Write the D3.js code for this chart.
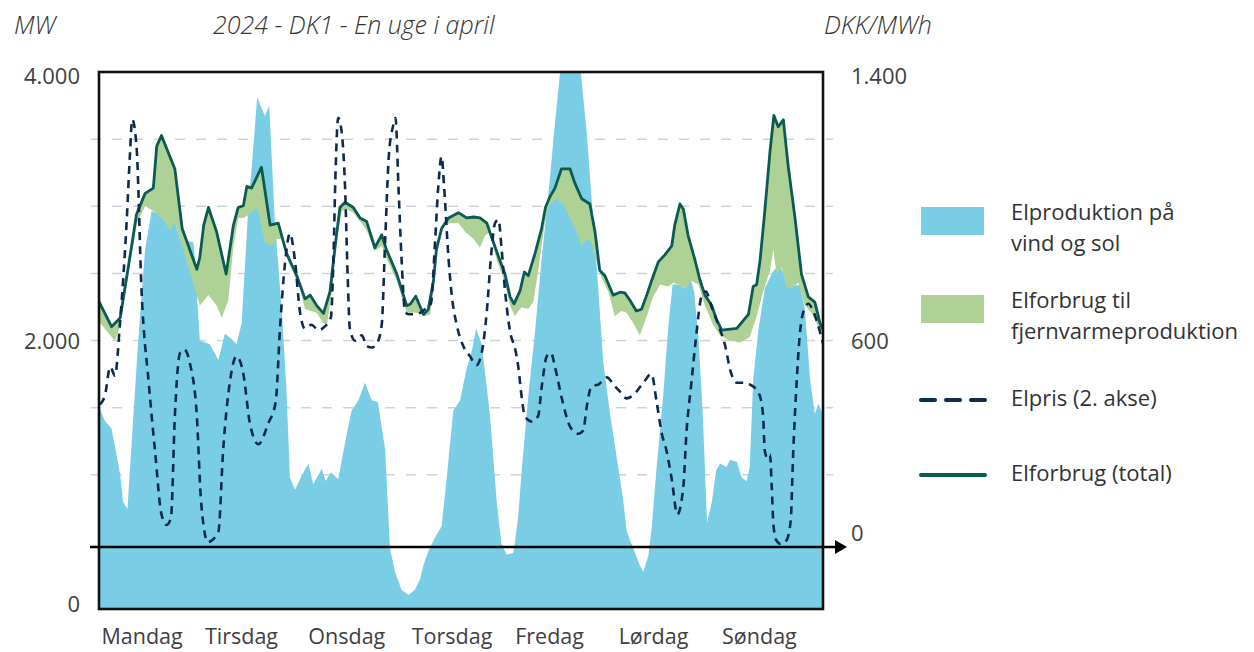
<!DOCTYPE html>
<html><head><meta charset="utf-8">
<script src="https://cdn.jsdelivr.net/npm/d3@7"></script>
<style>
html,body{margin:0;padding:0;background:#fff;}
svg{display:block;font-family:"Open Sans",sans-serif;}
</style></head><body>
<svg id="chart" width="1254" height="652"></svg>
<script>
// ---------- data (hour of week, value) ----------
const days = ["Mandag","Tirsdag","Onsdag","Torsdag","Fredag","Lørdag","Søndag"];
const mwTicks = [0, 2000, 4000];
const mwGrid = [1000, 1500, 2000, 2500, 3000, 3500];
const priceTicks = [0, 600, 1400];

// Elproduktion på vind og sol (MW)
const windSolar = [
 [0,1510],[1.4,1398],[2.9,1345],[4.9,1006],[5.6,797],[6.6,745],[9.1,2000],[10.7,2678],[12.2,2965],[14,2939],
 [16.5,2834],[17.6,2887],[18.8,2756],[21.9,2730],[22.3,2599],[22.8,2300],[23.4,2000],[25.7,1972],[27.7,1855],
 [29.2,2051],[30.8,2012],[31.9,1972],[33.1,2129],[34.6,2965],[35.8,3435],[36.7,3814],[38.5,3670],[39.5,3749],
 [40.8,2887],[42.4,2234],[43.5,1633],[44.3,980],[45.5,888],[47,993],[48.6,1084],[49.7,930],[51.7,1045],
 [52.6,954],[53.8,1019],[55.5,967],[57.1,1241],[58.6,1476],[60.2,1555],[61.7,1685],[63.3,1555],[64.7,1541],
 [66.4,1189],[67.5,457],[68.7,275],[70.2,144],[71.8,105],[73.3,144],[74.5,222],[75.3,327],[76.4,431],[78,535],
 [79.5,614],[80.7,980],[82.2,1476],[83.8,1555],[85.3,1790],[86.5,1920],[87.5,2090],[88.8,1972],[90.7,1450],
 [92.3,797],[93.4,484],[94.6,405],[96.1,418],[96.6,520],[97.3,700],[98.1,1040],[99.6,1581],[101.2,2077],
 [102.7,2599],[104.3,3096],[105.8,3618],[107.2,4062],[108.6,4400],[110.2,4380],[111.6,4062],[113.2,3540],
 [114.7,2887],[115.9,2364],[117,1842],[118.6,1450],[120.1,1137],[121.7,797],[122.4,588],[123.2,510],[124,457],
 [125.1,353],[126.3,275],[127.5,400],[128.2,588],[129.4,1058],[130.9,1581],[132.1,2103],[133.1,2417],
 [134.4,2417],[136,2390],[137.3,2456],[138.1,2364],[139.1,2025],[140.1,1450],[141.1,640],[142.2,797],
 [143.2,1032],[144.1,1084],[145.6,1058],[146.4,1110],[148,1097],[149.1,980],[150.3,954],[151,1058],
 [151.8,1711],[153,2077],[154.5,2390],[156.5,2521],[158,2560],[159.2,2469],[160.3,2403],[162.6,2416],
 [163.8,2234],[165,1711],[166.1,1450],[166.9,1528],[168,1450]
];

// Elforbrug (total) (MW)
const totalLoad = [
 [0,2290],[2.9,2103],[4.9,2168],[6.8,2547],[8.7,2939],[10.7,3096],[12.6,3135],[13.4,3448],[14.5,3527],
 [17.6,3278],[19.3,2834],[22.7,2530],[23.4,2620],[24.3,2860],[25.4,2991],[27.3,2808],[29.5,2495],[31.2,2860],
 [32.3,2991],[33.5,3004],[34.3,3148],[35.4,3135],[37.7,3291],[39.7,2860],[41.6,2874],[43.5,2651],[45.9,2482],
 [47.8,2310],[49,2338],[50.5,2260],[52.1,2202],[53.6,2364],[54.8,2704],[55.9,2991],[57.1,3030],[59,2991],
 [60.6,2913],[62.1,2887],[64,2691],[65.6,2787],[66.7,2678],[69.1,2495],[71.4,2260],[72.2,2270],[73.5,2330],
 [75.3,2194],[76.4,2230],[77.6,2443],[78.3,2678],[79.5,2834],[81.1,2913],[83.4,2952],[85.3,2913],[86.9,2920],
 [88.4,2913],[90,2874],[91.1,2769],[92.7,2625],[94.2,2495],[95.4,2325],[96.3,2273],[97.7,2370],[98.7,2510],
 [99.6,2482],[101.2,2651],[102.7,2834],[103.6,2991],[104.6,3069],[105.8,3135],[107.3,3278],[109.3,3278],
 [110.4,3174],[112,3056],[113.9,3017],[115.1,2808],[116.2,2521],[117.4,2482],[119.3,2338],[120.9,2360],
 [122,2355],[123.2,2300],[124.7,2220],[125.9,2234],[127.1,2338],[128.2,2443],[129.8,2586],[131.3,2638],
 [132.9,2704],[133.6,2860],[134.8,3017],[135.6,2978],[136.7,2782],[138.3,2599],[139.4,2456],[140.6,2338],
 [142.2,2260],[143.3,2155],[144.5,2077],[148,2090],[150.7,2194],[151.8,2403],[152.6,2416],[153.4,2599],
 [154.5,2965],[155.7,3409],[156.6,3676],[157.6,3592],[158.8,3644],[159.9,3305],[161.5,2913],[163,2495],
 [164.6,2325],[166.1,2286],[167.3,2129],[168,2080]
];

// Elforbrug uden fjernvarmeproduktion (lower edge of green band) (MW)
const loadExHeat = [
 [0,2140],[3.7,1999],[4.9,2103],[6.8,2495],[8.8,2874],[10.7,3000],[12.6,2965],[14.5,2913],[16.6,2821],
 [17.6,2887],[19.3,2704],[23.4,2260],[25.4,2338],[27.3,2260],[28.5,2170],[30,2300],[31.2,2704],[32.3,2913],
 [33.5,2913],[35,2940],[36.6,2990],[37.3,2913],[38.5,2730],[40.1,2704],[41.2,2756],[42.4,2756],[43.8,2599],
 [46.6,2390],[47.8,2234],[50.5,2207],[52.1,2129],[52.9,2116],[54,2364],[55.2,2756],[56.3,2965],[57.5,2978],
 [59,2952],[60.6,2887],[62.1,2821],[64,2665],[65.6,2704],[66.7,2612],[69.1,2443],[71.4,2207],[72.5,2207],
 [74.5,2207],[75.6,2181],[76.8,2194],[77.6,2364],[78.7,2756],[79.9,2860],[81.4,2874],[83.4,2874],[85,2808],
 [86.9,2756],[88.4,2691],[89.6,2782],[90.7,2808],[92.3,2599],[93.8,2469],[95.4,2260],[96.5,2181],[98,2247],
 [99.6,2234],[100.8,2286],[101.9,2521],[103.5,2887],[104.6,3017],[106.2,3056],[107.7,3017],[109.3,2913],
 [110.8,2808],[112,2704],[113.1,2756],[114.3,2730],[115.1,2625],[116.6,2469],[118.2,2364],[119.7,2181],
 [121.2,2220],[122.4,2207],[124,2129],[125.5,2038],[127.1,2181],[128.6,2325],[130.2,2417],[132.1,2403],
 [133.3,2430],[134.4,2417],[136,2390],[137.5,2443],[139.1,2417],[140.6,2260],[142.5,2116],[144.1,2040],
 [146.4,1999],[148.7,1985],[151,2025],[152.6,2181],[154.1,2364],[155.7,2521],[156.5,2678],[157.2,2495],
 [158.4,2547],[159.5,2403],[160.7,2390],[162.3,2430],[163.8,2260],[165.3,2207],[167.3,2077],[168,2060]
];

// Elpris (DKK/MWh)
const price = [
 [0.2,420],[1.4,448],[2.6,531],[3.7,505],[4.9,665],[6.4,955],[7.2,1161],[7.7,1260],[8.7,1182],[9.9,748],
 [11.5,489],[13,283],[14.5,96],[15.7,65],[16.7,86],[17.6,386],[18.8,572],[19.8,582],[21.1,541],[22.7,386],
 [23.6,150],[24.3,60],[25.2,14],[27.7,45],[28.8,283],[30.4,489],[31.9,562],[33.5,510],[35,365],[37,303],
 [39.3,365],[41,427],[42,644],[43.2,841],[44.3,924],[45.5,841],[46.6,696],[47.8,644],[49.3,655],[50.9,639],
 [52.4,650],[53.8,676],[54.4,851],[54.9,1110],[55.5,1265],[56.3,1224],[57.1,1058],[57.7,800],[58.2,644],
 [59.4,608],[61,624],[62.1,593],[63.3,588],[64.4,598],[65.6,655],[66.4,903],[67.3,1161],[68.3,1244],
 [68.8,1265],[69.5,1058],[70.2,851],[71,696],[71.8,686],[73.3,686],[74.5,690],[75.6,700],[77,717],[78,903],
 [78.7,1058],[79.5,1151],[80.1,1058],[81.1,851],[81.8,748],[83,655],[84.5,593],[86.1,562],[87.6,536],
 [88.8,572],[90,696],[91,862],[91.9,955],[92.7,965],[93.4,882],[94.2,758],[95.4,634],[96.6,582],[97.3,530],
 [98.1,440],[98.8,386],[100.4,370],[101.9,386],[102.7,469],[103.9,562],[104.9,572],[105.8,531],[107.4,438],
 [109.3,355],[111.2,334],[112.4,344],[113.1,407],[114.3,474],[115.9,479],[117.8,500],[119.7,474],[120.9,458],
 [122.4,438],[124,448],[126.3,484],[128.2,510],[129.4,427],[130.6,334],[131.7,283],[132.9,200],[134.2,96],
 [135.6,179],[136.3,334],[137.5,489],[138.5,613],[139.8,738],[140.8,753],[142.2,706],[143.7,655],[145.3,593],
 [146.5,520],[148,484],[149.9,484],[151,479],[152.2,469],[153.4,443],[154.1,386],[154.5,283],[155.1,262],
 [155.7,272],[156.1,179],[156.5,65],[157.2,19],[158.2,9],[159.5,19],[160.5,76],[161.1,283],[161.9,489],
 [162.6,624],[163.8,706],[164.6,717],[165.7,696],[167.3,634],[168,600]
];

const legendItems = [
 {lines:["Elproduktion på","vind og sol"], type:"rect", color:"#79cee5"},
 {lines:["Elforbrug til","fjernvarmeproduktion"], type:"rect", color:"#aed295"},
 {lines:["Elpris (2. akse)"], type:"dash", color:"#0e2a4c"},
 {lines:["Elforbrug (total)"], type:"line", color:"#0b5a54"}
];

// ---------- layout ----------
const P = {left:99, right:823, top:72, bottom:609};
const svg = d3.select("#chart");
const x = d3.scaleLinear().domain([0,168]).range([P.left,P.right]);
const yMW = d3.scaleLinear().domain([0,4000]).range([P.bottom,P.top]);
const yPrice = d3.scaleLinear().domain([0,1400]).range([547,P.top]);
const dayScale = d3.scaleBand().domain(days).range([P.left,P.right]);
const fmt = d3.formatLocale({decimal:",",thousands:".",grouping:[3],currency:["","kr"]}).format(",");
const textColor = "#404040";

svg.append("defs").append("clipPath").attr("id","plotclip")
  .append("rect").attr("x",P.left).attr("y",P.top).attr("width",P.right-P.left).attr("height",P.bottom-P.top);

// gridlines
svg.append("g").selectAll("line").data(mwGrid).join("line")
  .attr("x1",90).attr("x2",833)
  .attr("y1",d=>yMW(d)).attr("y2",d=>yMW(d))
  .attr("stroke","#cdd3dc").attr("stroke-width",1.5).attr("stroke-dasharray","10,11")
  .attr("stroke-dashoffset",-1);

const plot = svg.append("g").attr("clip-path","url(#plotclip)");

// blue area
plot.append("path").datum(windSolar)
  .attr("d", d3.area().x(d=>x(d[0])).y0(yMW(0)).y1(d=>yMW(d[1])))
  .attr("fill","#79cee5");

// green band
const bandPts = totalLoad.concat(loadExHeat.slice().reverse());
plot.append("path").datum(bandPts)
  .attr("d", d3.line().x(d=>x(d[0])).y(d=>yMW(d[1]))(bandPts) + "Z")
  .attr("fill","#aed295");

// total line
plot.append("path").datum(totalLoad)
  .attr("d", d3.line().x(d=>x(d[0])).y(d=>yMW(d[1])))
  .attr("fill","none").attr("stroke","#0b5a54").attr("stroke-width",2.8).attr("stroke-linejoin","round");

// price line
plot.append("path").datum(price)
  .attr("d", d3.line().curve(d3.curveMonotoneX).x(d=>x(d[0])).y(d=>yPrice(d[1])))
  .attr("fill","none").attr("stroke","#0e2a4c").attr("stroke-width",2.6)
  .attr("stroke-dasharray","8,6");

// frame
svg.append("rect").attr("x",P.left).attr("y",P.top)
  .attr("width",P.right-P.left).attr("height",P.bottom-P.top)
  .attr("fill","none").attr("stroke","#111").attr("stroke-width",2.6);

// zero price arrow axis
const y0p = yPrice(0);
svg.append("line").attr("x1",90).attr("x2",838).attr("y1",y0p).attr("y2",y0p)
  .attr("stroke","#000").attr("stroke-width",2.6);
svg.append("path").attr("d",`M835,${y0p-7}L847,${y0p}L835,${y0p+7}Z`).attr("fill","#000");

// left tick labels
svg.append("g").selectAll("text").data(mwTicks).join("text")
  .attr("x",80).attr("y",d=>Math.min(Math.max(yMW(d),76),604)+8)
  .attr("text-anchor","end").attr("font-size",22).attr("fill",textColor)
  .text(d=>fmt(d));

// right tick labels (aligned to left gridline rows, 0 just above the arrow)
svg.append("g").selectAll("text").data(priceTicks).join("text")
  .attr("x",851).attr("y",d=> (d===0 ? yPrice(0)-14 : d===1400 ? 76 : yMW(2000)) + 8)
  .attr("text-anchor","start").attr("font-size",22).attr("fill",textColor)
  .text(d=>fmt(d));

// day labels
svg.append("g").selectAll("text").data(days).join("text")
  .attr("x",d=>dayScale(d)+2.5).attr("y",644)
  .attr("text-anchor","start").attr("font-size",21.5).attr("fill",textColor)
  .text(d=>d);

// titles
const titles = [
  {t:"MW", x:14},
  {t:"2024 - DK1 - En uge i april", x:213},
  {t:"DKK/MWh", x:824}
];
svg.append("g").selectAll("text").data(titles).join("text")
  .attr("x",d=>d.x).attr("y",34)
  .attr("font-size",25).attr("font-style","italic").attr("font-weight",300).attr("fill","#333")
  .text(d=>d.t);

// legend
const legBase = [220, 308, 406, 481];
const lg = svg.append("g");
legendItems.forEach((it,i)=>{
  const b = legBase[i];
  if(it.type==="rect"){
    lg.append("rect").attr("x",921).attr("y",b-13).attr("width",63).attr("height",28).attr("fill",it.color);
  } else if(it.type==="dash"){
    lg.append("line").attr("x1",921).attr("x2",985).attr("y1",b-6).attr("y2",b-6)
      .attr("stroke",it.color).attr("stroke-width",4).attr("stroke-linecap","round").attr("stroke-dasharray","14,11");
  } else {
    lg.append("line").attr("x1",921).attr("x2",985).attr("y1",b-6).attr("y2",b-6)
      .attr("stroke",it.color).attr("stroke-width",4).attr("stroke-linecap","round");
  }
  it.lines.forEach((ln,j)=>{
    lg.append("text").attr("x",1011).attr("y",b + j*31)
      .attr("font-size",22).attr("fill","#333").text(ln);
  });
});
</script>
</body></html>
